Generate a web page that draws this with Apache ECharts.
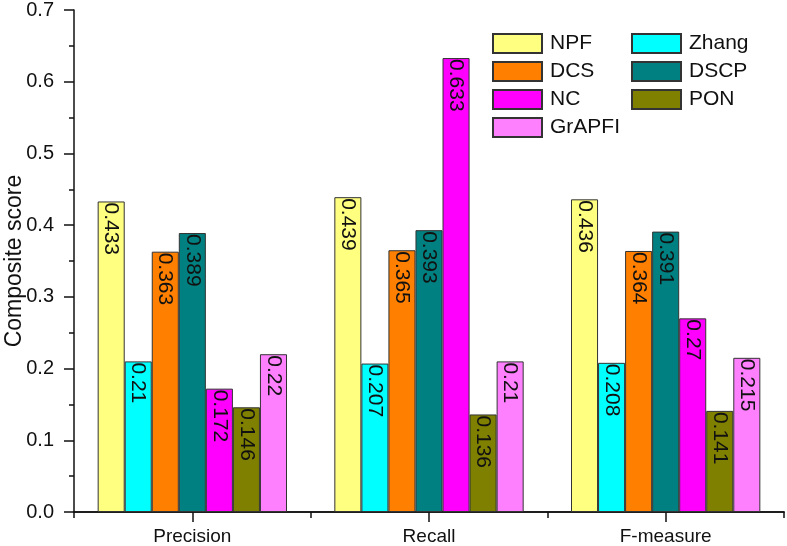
<!DOCTYPE html>
<html>
<head>
<meta charset="utf-8">
<script src="https://cdn.jsdelivr.net/npm/echarts@6/dist/echarts.min.js"></script>
<style>
html,body{margin:0;padding:0;background:#fff;}
#chart{width:787px;height:546px;}
</style>
</head>
<body>
<div id="chart"></div>
<script>
const categories = ['Precision', 'Recall', 'F-measure'];
const seriesNames = ['NPF', 'Zhang', 'DCS', 'DSCP', 'NC', 'PON', 'GrAPFI'];
const NPF = [0.433, 0.439, 0.436];
const Zhang = [0.21, 0.207, 0.208];
const DCS = [0.363, 0.365, 0.364];
const DSCP = [0.389, 0.393, 0.391];
const NC = [0.172, 0.633, 0.27];
const PON = [0.146, 0.136, 0.141];
const GrAPFI = [0.22, 0.21, 0.215];
const yTicks = [0, 0.1, 0.2, 0.3, 0.4, 0.5, 0.6, 0.7];

const values = [NPF, Zhang, DCS, DSCP, NC, PON, GrAPFI];
const colors = ['#FFFF80', '#00FFFF', '#FF8000', '#008080', '#FF00FF', '#808000', '#FF80FF'];
const FONT = '"Liberation Sans", Arial, sans-serif';

const chart = echarts.init(document.getElementById('chart'), null, {renderer: 'canvas'});

const series = seriesNames.map((name, i) => ({
  name: name,
  type: 'bar',
  data: values[i],
  xAxisIndex: 0,
  yAxisIndex: 0,
  barGap: '0%',
  barCategoryGap: '20%',
  itemStyle: {color: colors[i], borderColor: '#333', borderWidth: 1},
  emphasis: {disabled: true},
  label: {
    show: true,
    position: 'insideTop',
    rotate: -90,
    align: 'left',
    verticalAlign: 'middle',
    distance: 1,
    fontSize: 21,
    fontFamily: FONT,
    color: '#111',
    formatter: p => String(p.value)
  }
}));
// empty helper series bound to the overlay grid that carries the category-centre ticks
series.push({
  name: '_ticks',
  type: 'line',
  xAxisIndex: 1,
  yAxisIndex: 1,
  data: [],
  silent: true,
  showSymbol: false
});

const legendCommon = {
  orient: 'vertical',
  itemWidth: 49,
  itemHeight: 19,
  itemGap: 7,
  padding: 0,
  icon: 'rect',
  textStyle: {fontSize: 21, fontFamily: FONT, color: '#111', lineHeight: 19, padding: [0, 0, 0, 3]},
  selectedMode: false
};

const gridRect = {left: 74, right: 3, top: 10, bottom: 34, containLabel: false, outerBoundsMode: 'none'};

chart.setOption({
  animation: false,
  backgroundColor: '#fff',
  grid: [Object.assign({}, gridRect), Object.assign({}, gridRect)],
  legend: [
    Object.assign({left: 492, top: 33, data: ['NPF', 'DCS', 'NC', 'GrAPFI']}, legendCommon),
    Object.assign({left: 631, top: 33, data: ['Zhang', 'DSCP', 'PON']}, legendCommon)
  ],
  xAxis: [
    {
      type: 'category',
      gridIndex: 0,
      data: categories,
      axisLine: {lineStyle: {color: '#111', width: 1.5}},
      axisTick: {show: true, length: 6, inside: false, lineStyle: {color: '#111', width: 1.5}},
      axisLabel: {fontSize: 19, fontFamily: FONT, color: '#111', margin: 15}
    },
    {
      type: 'category',
      gridIndex: 1,
      data: categories,
      position: 'bottom',
      axisLine: {show: true, onZero: false, lineStyle: {color: '#111', width: 1.5}},
      splitLine: {show: false},
      axisTick: {show: true, alignWithLabel: true, interval: 0, length: 10, lineStyle: {color: '#111', width: 1.5}},
      axisLabel: {show: false, interval: 0}
    }
  ],
  yAxis: [
    {
      type: 'value',
      gridIndex: 0,
      min: yTicks[0],
      max: yTicks[yTicks.length - 1],
      interval: 0.1,
      name: 'Composite score',
      nameLocation: 'middle',
      nameGap: 48,
      nameMoveOverlap: false,
      nameTextStyle: {fontSize: 23, fontFamily: FONT, color: '#111'},
      axisLine: {show: true, lineStyle: {color: '#111', width: 1.5}},
      axisTick: {show: true, length: 10, lineStyle: {color: '#111', width: 1.5}},
      minorTick: {show: true, splitNumber: 2, length: 5, lineStyle: {color: '#111', width: 1.5}},
      splitLine: {show: false},
      axisLabel: {fontSize: 20, fontFamily: FONT, color: '#111', margin: 20, formatter: v => v.toFixed(1)}
    },
    {
      type: 'value',
      gridIndex: 1,
      min: yTicks[0],
      max: yTicks[yTicks.length - 1],
      show: false
    }
  ],
  series: series
});
</script>
</body>
</html>
